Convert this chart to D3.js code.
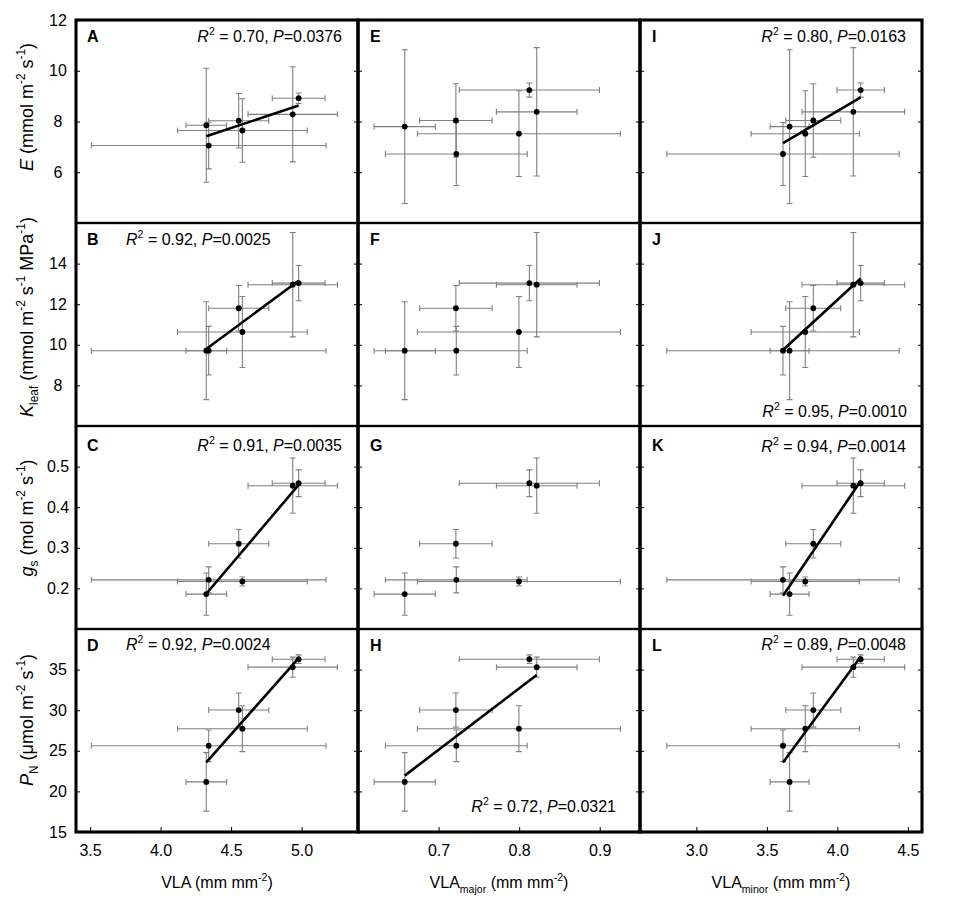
<!DOCTYPE html>
<html>
<head>
<meta charset="utf-8">
<script src="https://cdnjs.cloudflare.com/ajax/libs/d3/7.8.5/d3.min.js"></script>
<style>
  body { margin: 0; background: #fff; }
  text { font-family: "Liberation Sans", Arial, sans-serif; }
</style>
</head>
<body>
<svg id="chart" width="957" height="904"></svg>
<script>
// six leaf groups, listed in order of VLA (mean and SE)
var vla        = [4.324, 4.341, 4.554, 4.580, 4.937, 4.979];
var vlaSE      = [0.144, 0.832, 0.213, 0.460, 0.317, 0.187];
var vlaMajor   = [0.658, 0.722, 0.7215, 0.7997, 0.8218, 0.8127];
var vlaMajorSE = [0.038, 0.088, 0.045, 0.126, 0.050, 0.087];
var vlaMinor   = [3.661, 3.614, 3.829, 3.772, 4.113, 4.165];
var vlaMinorSE = [0.138, 0.824, 0.195, 0.384, 0.364, 0.168];

var transp   = [7.80, 6.72, 8.04, 7.52, 8.38, 9.24];
var transpSE = [3.03, 1.24, 1.45, 1.69, 2.53, 0.28];
var kleaf    = [9.71, 9.71, 11.80, 10.63, 12.96, 13.04];
var kleafSE  = [2.41, 1.20, 1.12, 1.75, 2.57, 0.87];
var gs       = [0.186, 0.221, 0.310, 0.217, 0.453, 0.459];
var gsSE     = [0.052, 0.032, 0.035, 0.011, 0.068, 0.033];
var pn       = [21.17, 25.62, 30.02, 27.72, 35.30, 36.28];
var pnSE     = [3.60, 1.95, 2.10, 2.82, 1.24, 0.53];

// tick labels
var vlaTicks   = [3.5, 4.0, 4.5, 5.0];
var majorTicks = [0.7, 0.8, 0.9];
var minorTicks = [3.0, 3.5, 4.0, 4.5];
var eTicks     = [6, 8, 10, 12];
var kTicks     = [8, 10, 12, 14];
var gsTicks    = [0.2, 0.3, 0.4, 0.5];
var pnTicks    = [15, 20, 25, 30, 35];

// panels A-L, column by column; fits only where the paper gives them
var letters = ["A", "B", "C", "D", "E", "F", "G", "H", "I", "J", "K", "L"];
var r2      = ["0.70", "0.92", "0.91", "0.92", null, null, null, "0.72", "0.80", "0.95", "0.94", "0.89"];
var pval    = ["0.0376", "0.0025", "0.0035", "0.0024", null, null, null, "0.0321", "0.0163", "0.0010", "0.0014", "0.0048"];

// layout
var colLeft = [76, 358, 640], panelW = 282;
var rowTop = [20, 223, 426, 629], panelH = 203;
// where the R2 text sits: [anchor, x from left or right edge, y from top or bottom edge]
var statPos = {
  A: ["end", -16, 22], B: ["start", 50, 22], C: ["end", -16, 25], D: ["start", 50, 21],
  H: ["end", -24, -20], I: ["end", -16, 22], J: ["end", -15, -9], K: ["end", -16, 26], L: ["end", -16, 21]
};

var cols = [
  { x: vla, se: vlaSE, domain: [3.4, 5.4], ticks: vlaTicks,
    title: [["VLA", ""], [" (mm mm", ""], ["-2", "sup"], [")", ""]] },
  { x: vlaMajor, se: vlaMajorSE, domain: [0.6, 0.95], ticks: majorTicks,
    title: [["VLA", ""], ["major", "sub"], [" (mm mm", ""], ["-2", "sup"], [")", ""]] },
  { x: vlaMinor, se: vlaMinorSE, domain: [2.6, 4.6], ticks: minorTicks,
    title: [["VLA", ""], ["minor", "sub"], [" (mm mm", ""], ["-2", "sup"], [")", ""]] }
];

var rows = [
  { y: transp, se: transpSE, domain: [4, 12], ticks: eTicks, fmt: d3.format("d"), titleY: 107,
    title: [["E", "i"], [" (mmol m", ""], ["-2", "sup"], [" s", ""], ["-1", "sup"], [")", ""]] },
  { y: kleaf, se: kleafSE, domain: [6, 16], ticks: kTicks, fmt: d3.format("d"), titleY: 317,
    title: [["K", "i"], ["leaf", "sub"], [" (mmol m", ""], ["-2", "sup"], [" s", ""], ["-1", "sup"],
            [" MPa", ""], ["-1", "sup"], [")", ""]] },
  { y: gs, se: gsSE, domain: [0.1, 0.6], ticks: gsTicks, fmt: d3.format(".1f"), titleY: 518,
    title: [["g", "i"], ["s", "sub"], [" (mol m", ""], ["-2", "sup"], [" s", ""], ["-1", "sup"], [")", ""]] },
  { y: pn, se: pnSE, domain: [15, 40], ticks: pnTicks, fmt: d3.format("d"), titleY: 720,
    title: [["P", "i"], ["N", "sub"], [" (\u03bcmol m", ""], ["-2", "sup"], [" s", ""], ["-1", "sup"], [")", ""]] }
];

var svg = d3.select("#chart");

// writes text made of plain, italic, super- and subscript pieces
function richText(sel, parts, size) {
  var shift = 0;
  parts.forEach(function(p) {
    var t = sel.append("tspan").text(p[0]);
    var target = 0;
    if (p[1] == "i") t.style("font-style", "italic");
    if (p[1] == "sup") { target = -0.42 * size; t.attr("font-size", size * 0.66); }
    if (p[1] == "sub") { target = 0.3 * size; t.attr("font-size", size * 0.66); }
    t.attr("dy", target - shift);
    shift = target;
  });
}

function fitLine(xs, ys) {
  var mx = d3.mean(xs), my = d3.mean(ys);
  var sxy = d3.sum(xs, function(v, i) { return (v - mx) * (ys[i] - my); });
  var sxx = d3.sum(xs, function(v) { return (v - mx) * (v - mx); });
  var b = sxy / sxx;
  var ext = d3.extent(xs);
  return ext.map(function(v) { return [v, my + b * (v - mx)]; });
}

cols.forEach(function(col, c) {
  var left = colLeft[c], right = left + panelW;
  var x = d3.scaleLinear().domain(col.domain).range([left, right]);

  rows.forEach(function(row, r) {
    var top = rowTop[r], bottom = top + panelH;
    var letter = letters[c * 4 + r];
    var y = d3.scaleLinear().domain(row.domain).range([bottom, top]);
    // panel A was plotted on a wider range than its axis labels show
    var yMarks = letter == "A" ? d3.scaleLinear().domain([2.6, 13.4]).range([bottom, top]) : y;

    var g = svg.append("g");

    // y ticks pointing inward on both sides
    var yl = g.append("g").attr("transform", "translate(" + left + ",0)")
      .call(d3.axisLeft(y).tickValues(row.ticks).tickSize(-4).tickFormat(c == 0 ? row.fmt : ""));
    g.append("g").attr("transform", "translate(" + right + ",0)")
      .call(d3.axisRight(y).tickValues(row.ticks).tickSize(-4).tickFormat(""));
    g.selectAll(".domain").remove();
    yl.selectAll("text").attr("x", -18).attr("text-anchor", "middle")
      .attr("font-size", 16).attr("font-family", null).attr("fill", "#000");

    if (r == 3) {
      var xa = g.append("g").attr("transform", "translate(0," + bottom + ")")
        .call(d3.axisBottom(x).tickValues(col.ticks).tickSize(-5).tickPadding(13).tickFormat(d3.format(".1f")));
      xa.select(".domain").remove();
      xa.selectAll("text").attr("font-size", 16).attr("font-family", null).attr("fill", "#000");
    }

    // error bars
    var bars = g.append("g").attr("stroke", "#808080").attr("stroke-width", 1.1).attr("fill", "none");
    col.x.forEach(function(xv, i) {
      var yv = row.y[i], xe = col.se[i], ye = row.se[i];
      var px = x(xv), py = yMarks(yv);
      var x0 = x(xv - xe), x1 = x(xv + xe), y0 = yMarks(yv - ye), y1 = yMarks(yv + ye);
      bars.append("path").attr("d",
        "M" + x0 + "," + py + "H" + x1 +
        "M" + x0 + "," + (py - 3) + "V" + (py + 3) +
        "M" + x1 + "," + (py - 3) + "V" + (py + 3) +
        "M" + px + "," + y0 + "V" + y1 +
        "M" + (px - 3) + "," + y0 + "H" + (px + 3) +
        "M" + (px - 3) + "," + y1 + "H" + (px + 3));
    });

    // regression line
    if (r2[c * 4 + r]) {
      var pts = fitLine(col.x, row.y);
      g.append("path")
        .attr("d", d3.line().x(function(d) { return x(d[0]); }).y(function(d) { return yMarks(d[1]); })(pts))
        .attr("stroke", "#000").attr("stroke-width", 2.6).attr("fill", "none");
    }

    g.selectAll("circle.pt").data(col.x).enter().append("circle")
      .attr("class", "pt")
      .attr("cx", function(d) { return x(d); })
      .attr("cy", function(d, i) { return yMarks(row.y[i]); })
      .attr("r", 2.9).attr("fill", "#000");

    // frame
    g.append("rect").attr("x", left).attr("y", top).attr("width", panelW).attr("height", panelH)
      .attr("fill", "none").attr("stroke", "#000").attr("stroke-width", 2.2);

    g.append("text").attr("x", left + (c == 0 ? 11 : 12)).attr("y", top + (r == 2 ? 25 : 22))
      .attr("font-size", 16).attr("font-weight", "bold").text(letter);

    if (r2[c * 4 + r]) {
      var sp = statPos[letter];
      var tx = sp[0] == "end" ? right + sp[1] : left + sp[1];
      var ty = sp[2] > 0 ? top + sp[2] : bottom + sp[2];
      var st = g.append("text").attr("x", tx).attr("y", ty).attr("font-size", 16).attr("text-anchor", sp[0]);
      richText(st, [["R", "i"], ["2", "sup"], [" = " + r2[c * 4 + r] + ", ", ""], ["P", "i"], ["=" + pval[c * 4 + r], ""]], 16);
    }
  });

  // heavier column frame
  svg.append("rect").attr("x", left).attr("y", rowTop[0]).attr("width", panelW).attr("height", panelH * 4)
    .attr("fill", "none").attr("stroke", "#000").attr("stroke-width", 3);

  var xt = svg.append("text").attr("x", left + panelW / 2).attr("y", 888)
    .attr("text-anchor", "middle").attr("font-size", 16);
  richText(xt, col.title, 16);
});

rows.forEach(function(row) {
  var yt = svg.append("text")
    .attr("transform", "translate(33," + row.titleY + ") rotate(-90)")
    .attr("text-anchor", "middle").attr("font-size", 18);
  richText(yt, row.title, 18);
});
</script>
</body>
</html>
